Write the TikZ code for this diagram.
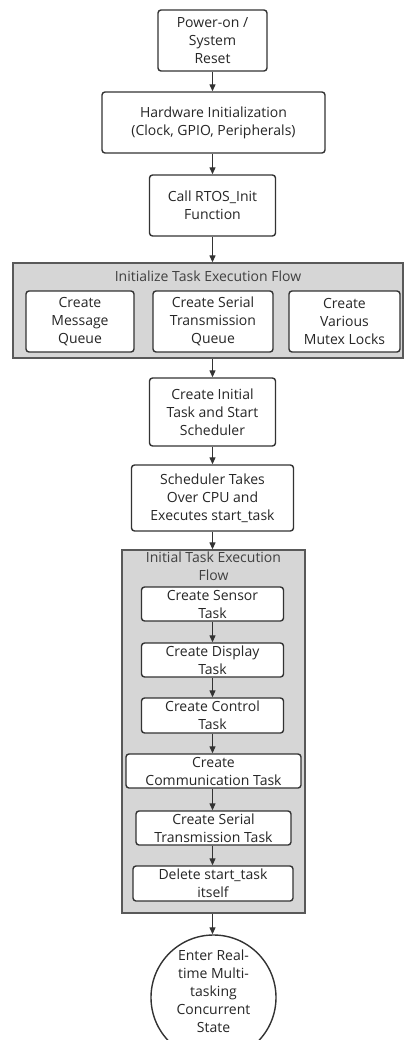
\documentclass[tikz,border=0pt]{standalone}
\usepackage{fontspec}
\setmainfont{Open Sans}
\usetikzlibrary{arrows.meta}

\tikzset{
	stepbox/.style={draw=black!80, line width=1.4pt, rounded corners=3pt, fill=white,
		align=center, inner sep=0pt, font=\fontsize{14}{18}\selectfont, text=black!85},
	groupbox/.style={draw=black!65, line width=1.3pt, fill=black!16, inner sep=0pt},
	grouptitle/.style={align=center, inner sep=0pt, font=\fontsize{14}{18}\selectfont, text=black!75},
	flow/.style={draw=black!80, line width=1.2pt, -{Triangle[length=7pt,width=6pt]}}
}

\begin{document}
\begin{tikzpicture}[x=1pt, y=-1pt]
		%%%%% START %%%%%
		\useasboundingbox (0, 0) rectangle (404, 1040);
		
		\node[stepbox, minimum width=109pt, minimum height=61pt] (reset) at (212.5, 40.5) {Power-on /\\System\\Reset};
		\node[stepbox, minimum width=223pt, minimum height=61pt] (hwinit) at (213.5, 122.5) {Hardware Initialization\\(Clock, GPIO, Peripherals)};
		\node[stepbox, minimum width=126pt, minimum height=61pt] (rtosinit) at (212.5, 205.5) {Call RTOS\_Init\\Function};
		
		% first group: init of the kernel objects
		\node[groupbox, minimum width=390pt, minimum height=95pt] (initflow) at (208, 310.5) {};
		\node[grouptitle] (initflowtitle) at (208, 276) {Initialize Task Execution Flow};
		\node[stepbox, minimum width=108pt, minimum height=61pt] (msgq) at (80, 321.5) {Create\\Message\\Queue};
		\node[stepbox, minimum width=120pt, minimum height=61pt] (serialq) at (213, 321.5) {Create Serial\\Transmission\\Queue};
		\node[stepbox, minimum width=111pt, minimum height=61pt] (mutex) at (344.5, 321.5) {Create\\Various\\Mutex Locks};
		
		\node[stepbox, minimum width=126pt, minimum height=68pt] (starttask) at (212.5, 412) {Create Initial\\Task and Start\\Scheduler};
		\node[stepbox, minimum width=162pt, minimum height=66pt] (sched) at (212.5, 498) {Scheduler Takes\\Over CPU and\\Executes start\_task};
		
		% second group: what start_task does
		\node[groupbox, minimum width=183pt, minimum height=363pt] (taskflow) at (213.5, 731.5) {};
		\node[grouptitle] (taskflowtitle) at (213.5, 566) {Initial Task Execution\\Flow};
		\node[stepbox, minimum width=142pt, minimum height=34pt] (sensor) at (212.5, 604) {Create Sensor\\Task};
		\node[stepbox, minimum width=142pt, minimum height=34pt] (display) at (212.5, 660) {Create Display\\Task};
		\node[stepbox, minimum width=142pt, minimum height=35pt] (control) at (212.5, 715.5) {Create Control\\Task};
		\node[stepbox, minimum width=175pt, minimum height=34pt] (comm) at (213.5, 771) {Create\\Communication Task};
		\node[stepbox, minimum width=155pt, minimum height=34pt] (serial) at (213.5, 828) {Create Serial\\Transmission Task};
		\node[stepbox, minimum width=160pt, minimum height=35pt] (delete) at (213, 883.5) {Delete start\_task\\itself};
		
		% end state, text sits a bit above the circle centre
		\node[stepbox, circle, rounded corners=0pt, minimum size=125pt] (running) at (213.5, 997.5) {};
		\node[stepbox, draw=none, fill=none] (runningtext) at (213.5, 991) {Enter Real-\\time Multi-\\tasking\\Concurrent\\State};
		
		% arrows
		\draw[flow] (reset) -- (reset |- hwinit.north);
		\draw[flow] (hwinit.south -| reset) -- (reset |- rtosinit.north);
		\draw[flow] (rtosinit.south) -- (rtosinit.south |- initflow.north);
		\draw[flow] (starttask.north |- initflow.south) -- (starttask.north);
		\draw[flow] (starttask) -- (sched);
		\draw[flow] (sched.south) -- (sched.south |- taskflow.north);
		\draw[flow] (sensor) -- (display);
		\draw[flow] (display) -- (control);
		\draw[flow] (control.south) -- (control.south |- comm.north);
		\draw[flow] (control.south |- comm.south) -- (control.south |- serial.north);
		\draw[flow] (control.south |- serial.south) -- (control.south |- delete.north);
		\draw[flow] (control.south |- taskflow.south) -- (control.south |- running.north);
		
		%%%%% END %%%%%
	\end{tikzpicture}
\end{document}
